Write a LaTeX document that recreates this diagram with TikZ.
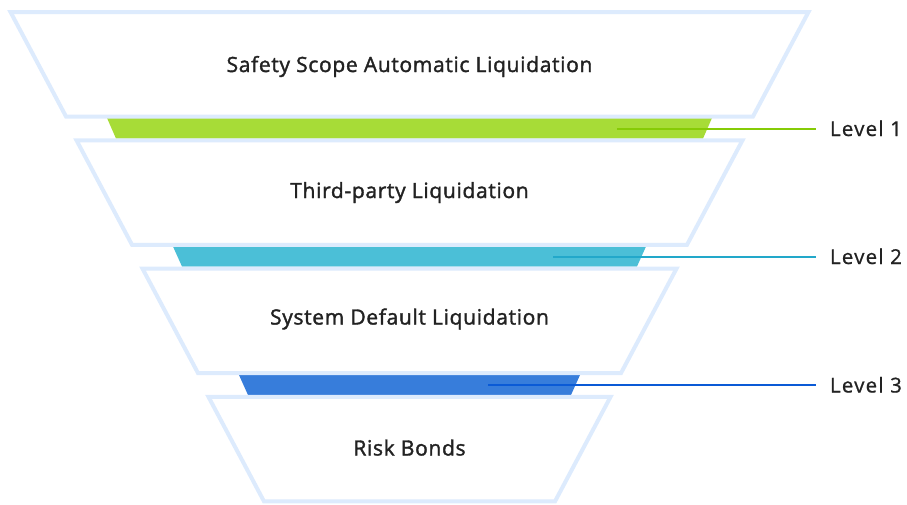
\documentclass[tikz,border=0pt]{standalone}
\usepackage{fontspec}
\setmainfont{Open Sans}
\newfontfamily\stagefont[FakeBold=1.6,LetterSpace=3.2]{Open Sans}
\newfontfamily\levelfont[FakeBold=0.8,LetterSpace=6]{Open Sans}
\usetikzlibrary{positioning}

\definecolor{rimblue}{HTML}{DDEBFD}
\definecolor{inkgray}{HTML}{222222}
\definecolor{lvlgreen}{HTML}{A7DC37}
\definecolor{lvlgreenline}{HTML}{86CB06}
\definecolor{lvlteal}{HTML}{4BBFD7}
\definecolor{lvltealline}{HTML}{22A8CA}
\definecolor{lvlblue}{HTML}{377DDB}
\definecolor{lvlblueline}{HTML}{0A5AD6}

\tikzset{
  stage/.style={draw=rimblue, line width=4pt, fill=white},
  stagetext/.style={text=inkgray, anchor=base, inner sep=0pt, font=\stagefont\fontsize{21}{24}\selectfont},
  leveltext/.style={text=inkgray, anchor=base west, inner sep=0pt, outer xsep=14pt, font=\levelfont\fontsize{20.5}{24}\selectfont},
  levelline/.style={line width=2pt},
}

\begin{document}
\begin{tikzpicture}[x=1pt,y=-1pt]
  \useasboundingbox (0,0) rectangle (907,504);
  %coloured level bands, behind the funnel
  \fill[lvlgreen] (107,118) -- (712,118) -- (703,138.5) -- (116,138.5) -- cycle;
  \fill[lvlteal] (173,246.5) -- (646,246.5) -- (637,266.5) -- (182,266.5) -- cycle;
  \fill[lvlblue] (239,375) -- (580,375) -- (571,395) -- (248,395) -- cycle;
  %funnel stages
  \draw[stage] (10.5,12) -- (808.5,12) -- (753,116.5) -- (66,116.5) -- cycle;
  \draw[stage] (76.5,140.3) -- (742.5,140.3) -- (687,244.8) -- (132,244.8) -- cycle;
  \draw[stage] (142.5,268.6) -- (676.5,268.6) -- (621,373.1) -- (198,373.1) -- cycle;
  \draw[stage] (208.5,396.9) -- (610.5,396.9) -- (555,501.4) -- (264,501.4) -- cycle;
  %stage titles
  \node[stagetext] (s1) at (409.5,72) {Safety Scope Automatic Liquidation};
  \node[stagetext] (s2) at (409.5,198) {Third-party Liquidation};
  \node[stagetext] (s3) at (409.5,324.5) {System Default Liquidation};
  \node[stagetext] (s4) at (409.5,455.5) {Risk Bonds};
  %level labels on the right
  \node[leveltext] (l1) at (816,136) {Level 1};
  \node[leveltext] (l2) at (816,264) {Level 2};
  \node[leveltext] (l3) at (816,392.5) {Level 3};
  %start points of the level lines inside the bands
  \coordinate (b1) at (617,129);
  \coordinate (b2) at (553,256.5);
  \coordinate (b3) at (488,384.5);
  \draw[levelline, lvlgreenline] (b1) -- (b1 -| l1.west);
  \draw[levelline, lvltealline] (b2) -- (b2 -| l2.west);
  \draw[levelline, lvlblueline] (b3) -- (b3 -| l3.west);
\end{tikzpicture}
\end{document}
